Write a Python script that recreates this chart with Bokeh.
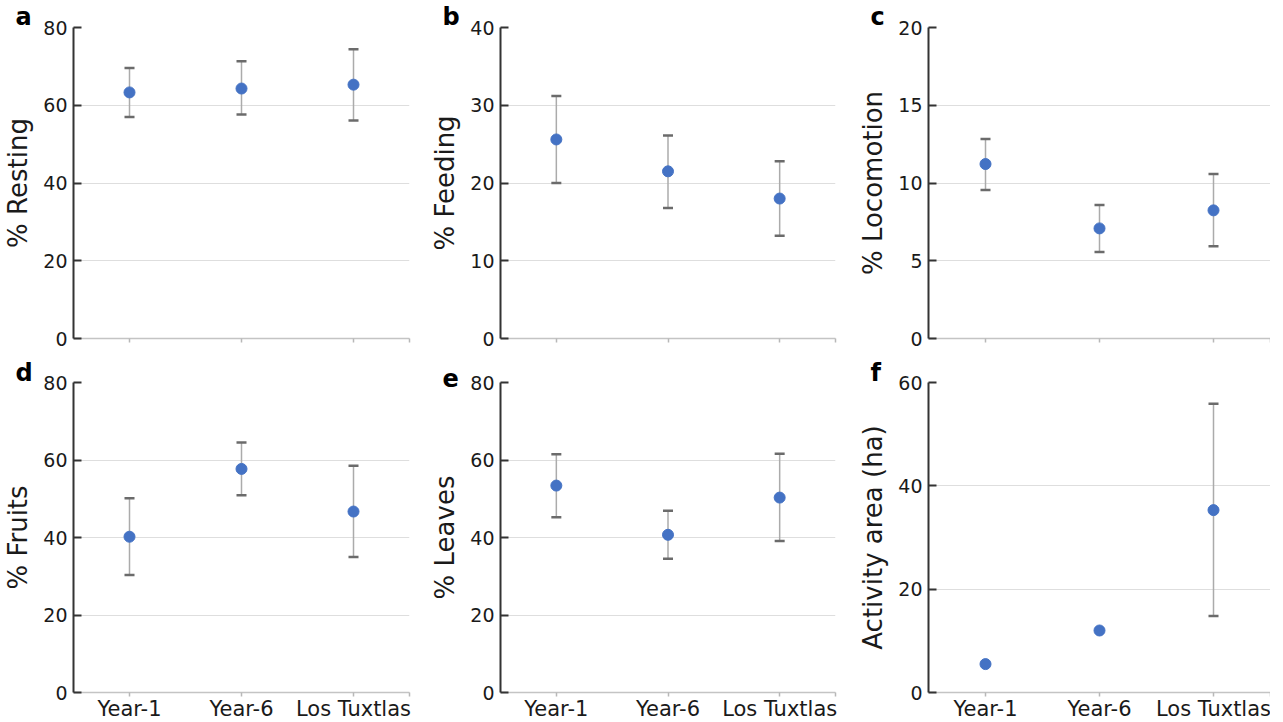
from bokeh.plotting import figure
from bokeh.models import Range1d, FixedTicker, Whisker, TeeHead, ColumnDataSource
from bokeh.layouts import column, row
from bokeh.embed import file_html
from bokeh.resources import INLINE

sites = ["Year-1", "Year-6", "Los Tuxtlas"]

resting_mean = [63.3, 64.3, 65.3]
resting_lower = [57.0, 57.6, 56.1]
resting_upper = [69.6, 71.3, 74.4]

feeding_mean = [25.6, 21.5, 18.0]
feeding_lower = [20.0, 16.8, 13.2]
feeding_upper = [31.2, 26.1, 22.8]

locomotion_mean = [11.22, 7.08, 8.24]
locomotion_lower = [9.55, 5.56, 5.94]
locomotion_upper = [12.83, 8.58, 10.58]

fruits_mean = [40.2, 57.7, 46.7]
fruits_lower = [30.3, 50.9, 35.0]
fruits_upper = [50.1, 64.5, 58.5]

leaves_mean = [53.4, 40.7, 50.3]
leaves_lower = [45.2, 34.5, 39.1]
leaves_upper = [61.5, 46.9, 61.6]

area_mean = [5.5, 12.0, 35.3]
area_lower = [None, None, 14.8]
area_upper = [None, None, 55.9]

panel_letters = ["a", "b", "c", "d", "e", "f"]
y_labels = ["% Resting", "% Feeding", "% Locomotion", "% Fruits", "% Leaves", "Activity area (ha)"]
y_ticks = [[0, 20, 40, 60, 80], [0, 10, 20, 30, 40], [0, 5, 10, 15, 20],
           [0, 20, 40, 60, 80], [0, 20, 40, 60, 80], [0, 20, 40, 60]]

series = [
    (resting_mean, resting_lower, resting_upper),
    (feeding_mean, feeding_lower, feeding_upper),
    (locomotion_mean, locomotion_lower, locomotion_upper),
    (fruits_mean, fruits_lower, fruits_upper),
    (leaves_mean, leaves_lower, leaves_upper),
    (area_mean, area_lower, area_upper),
]

FONT = "DejaVu Sans"
DOT = "#4472C4"
col_fw = [336, 335, 342]
col_bl = [66, 65, 67]
col_br = [18, 20, 0]
row_fh = [311, 310]
row_bt = [27, 28]
row_bb = [16, 30]
row_title_standoff = [-6, -9]

xs = [i + 0.5 for i in range(len(sites))]


def make_panel(k):
    r, c = divmod(k, 3)
    mean, lower, upper = series[k]
    ticks = y_ticks[k]
    p = figure(frame_width=col_fw[c], frame_height=row_fh[r], output_backend="svg",
               toolbar_location=None,
               x_range=Range1d(0, len(sites)), y_range=Range1d(ticks[0], ticks[-1]),
               min_border_left=col_bl[c], min_border_right=col_br[c],
               min_border_top=row_bt[r], min_border_bottom=row_bb[r])
    p.outline_line_color = None
    p.background_fill_color = "white"
    p.border_fill_color = "white"
    p.xgrid.visible = False
    p.ygrid.grid_line_color = "#dedede"
    p.ygrid.grid_line_width = 1.2

    p.title.text = panel_letters[k]
    p.title.align = "left"
    p.title.offset = -58
    p.title.standoff = row_title_standoff[r]
    p.title.text_font = FONT
    p.title.text_font_size = "24px"
    p.title.text_font_style = "bold"
    p.title.text_color = "black"

    yax = p.yaxis[0]
    yax.ticker = FixedTicker(ticks=ticks)
    yax.axis_line_color = "#333333"
    yax.axis_line_width = 2
    yax.major_tick_line_color = "#333333"
    yax.major_tick_line_width = 2
    yax.major_tick_in = 8
    yax.major_tick_out = 0
    yax.minor_tick_line_color = None
    yax.major_label_text_font = FONT
    yax.major_label_text_font_size = "19px"
    yax.major_label_text_color = "#1a1a1a"
    yax.major_label_standoff = 6
    yax.axis_label = y_labels[k]
    yax.axis_label_text_font = FONT
    yax.axis_label_text_font_size = "26px"
    yax.axis_label_text_font_style = "normal"
    yax.axis_label_text_color = "#1a1a1a"
    yax.axis_label_standoff = 7

    xax = p.xaxis[0]
    xax.ticker = FixedTicker(ticks=xs + [float(len(sites))])
    if r == 0:
        overrides = {x: "" for x in xs}
    else:
        overrides = {x: s for x, s in zip(xs, sites)}
    overrides[float(len(sites))] = ""
    xax.major_label_overrides = overrides
    xax.axis_line_color = "#c4c4c4"
    xax.axis_line_width = 1.5
    xax.major_tick_line_color = "#b8b8b8"
    xax.major_tick_line_width = 1.5
    xax.major_tick_in = 0
    xax.major_tick_out = 4
    xax.minor_tick_line_color = None
    xax.major_label_text_font = FONT
    xax.major_label_text_color = "#1a1a1a"
    if r == 0:
        xax.major_label_text_font_size = "10px"
        xax.major_label_standoff = 0
    else:
        xax.major_label_text_font_size = "21px"
        xax.major_label_standoff = 0

    bx = [x for x, lo in zip(xs, lower) if lo is not None]
    blo = [lo for lo in lower if lo is not None]
    bup = [up for up in upper if up is not None]
    src = ColumnDataSource(dict(base=bx, lower=blo, upper=bup))
    w = Whisker(source=src, base="base", lower="lower", upper="upper",
                line_color="#ababab", line_width=1.5, level="underlay",
                upper_head=TeeHead(size=10, line_color="#6b6b6b", line_width=2.5),
                lower_head=TeeHead(size=10, line_color="#6b6b6b", line_width=2.5))
    p.add_layout(w)

    p.scatter(xs, mean, size=11, color=DOT, line_color=DOT)
    return p


panels = [make_panel(k) for k in range(6)]
layout = column(row(*panels[:3]), row(*panels[3:]))

open("out.html", "w").write(file_html(layout, INLINE))
